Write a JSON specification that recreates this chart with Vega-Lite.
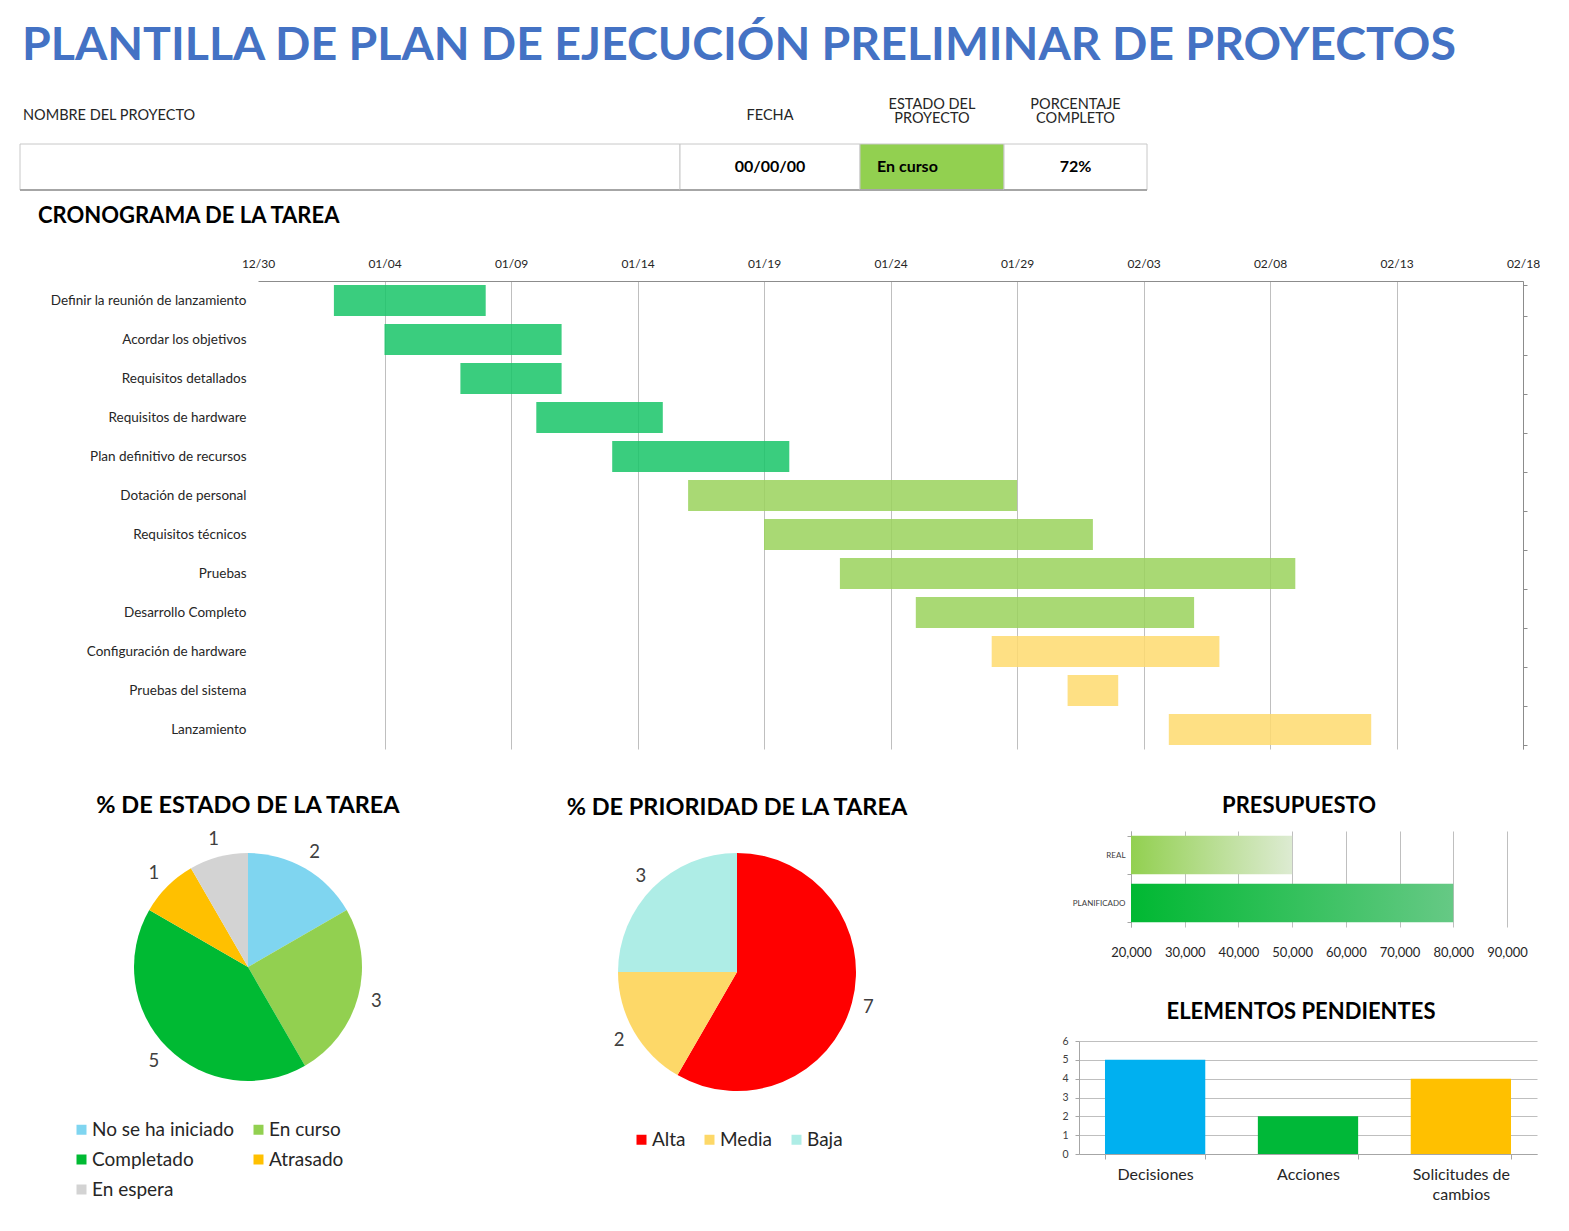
{
  "$schema": "https://vega.github.io/schema/vega-lite/v6.json",
  "background": "white",
  "padding": {"left": 19, "top": 22, "right": 0, "bottom": 10},
  "title": {"text": "PLANTILLA DE PLAN DE EJECUCIÓN PRELIMINAR DE PROYECTOS", "anchor": "start", "frame": "group", "dx": 2, "fontSize": 46.5, "fontWeight": "bold", "color": "#4472C4", "baseline": "top", "offset": 10, "font": "Lato"},
  "config": {
    "font": "Lato",
    "view": {"stroke": null},
    "axis": {"labelFont": "Lato", "labelColor": "#262626"},
    "legend": {"labelFont": "Lato"},
    "title": {"font": "Lato", "baseline": "top", "color": "#000000", "fontWeight": "bold"}
  },
  "spacing": 45,
  "resolve": {"scale": {"color": "independent", "theta": "independent"}, "legend": {"color": "independent"}},
  "vconcat": [
    {
      "spacing": 14,
      "resolve": {"scale": {"color": "independent"}, "legend": {"color": "independent"}},
      "vconcat": [
        {
          "spacing": 0,
          "vconcat": [
            {
              "spacing": 0,
              "bounds": "flush",
              "hconcat": [
                {"width": 660, "height": 64, "data": {"values": [{"encabezado": "NOMBRE DEL PROYECTO"}]},
                 "mark": {"type": "text", "align": "left", "x": 0, "dx": 3, "dy": 4.5, "baseline": "middle", "fontSize": 14.5, "color": "#262626", "lineBreak": "\n", "lineHeight": 14},
                 "encoding": {"text": {"field": "encabezado"}}},
                {"width": 180, "height": 64, "data": {"values": [{"encabezado": "FECHA"}]},
                 "mark": {"type": "text", "align": "center", "dy": 4.5, "baseline": "middle", "fontSize": 14.5, "color": "#262626", "lineBreak": "\n", "lineHeight": 14},
                 "encoding": {"text": {"field": "encabezado"}}},
                {"width": 144, "height": 64, "data": {"values": [{"encabezado": "ESTADO DEL\nPROYECTO"}]},
                 "mark": {"type": "text", "align": "center", "dy": -6.5, "baseline": "middle", "fontSize": 14.5, "color": "#262626", "lineBreak": "\n", "lineHeight": 14},
                 "encoding": {"text": {"field": "encabezado"}}},
                {"width": 143, "height": 64, "data": {"values": [{"encabezado": "PORCENTAJE\nCOMPLETO"}]},
                 "mark": {"type": "text", "align": "center", "dy": -6.5, "baseline": "middle", "fontSize": 14.5, "color": "#262626", "lineBreak": "\n", "lineHeight": 14},
                 "encoding": {"text": {"field": "encabezado"}}}
              ]
            },
            {
              "spacing": 0,
              "bounds": "flush",
              "hconcat": [
                {"width": 660, "height": 46, "data": {"values": [{"columna": "Nombre del proyecto", "valor": ""}]},
                 "encoding": {
                   "x": {"datum": 0, "type": "quantitative", "scale": {"domain": [0, 1], "nice": false}, "axis": null},
                   "x2": {"datum": 1},
                   "y": {"datum": 0, "type": "quantitative", "scale": {"domain": [0, 1], "nice": false}, "axis": null}
                 },
                 "layer": [
                   {"mark": {"type": "rect", "fill": "white", "stroke": "#C8C8C8", "strokeWidth": 1}, "encoding": {"y2": {"datum": 1}}},
                   {"mark": {"type": "rule", "color": "#A6A6A6", "strokeWidth": 2}, "encoding": {}}
                 ]},
                {"width": 180, "height": 46, "data": {"values": [{"columna": "Fecha", "valor": "00/00/00"}]},
                 "layer": [
                   {"mark": {"type": "rect", "fill": "white", "stroke": "#C8C8C8", "strokeWidth": 1},
                    "encoding": {
                      "x": {"datum": 0, "type": "quantitative", "scale": {"domain": [0, 1], "nice": false}, "axis": null},
                      "x2": {"datum": 1},
                      "y": {"datum": 0, "type": "quantitative", "scale": {"domain": [0, 1], "nice": false}, "axis": null},
                      "y2": {"datum": 1}}},
                   {"mark": {"type": "rule", "color": "#A6A6A6", "strokeWidth": 2},
                    "encoding": {"x": {"datum": 0, "type": "quantitative"}, "x2": {"datum": 1}, "y": {"datum": 0, "type": "quantitative"}}},
                   {"mark": {"type": "text", "align": "center", "baseline": "middle", "fontSize": 16, "fontWeight": "bold", "color": "#000000"},
                    "encoding": {"text": {"field": "valor"}}}
                 ]},
                {"width": 144, "height": 46, "data": {"values": [{"columna": "Estado del proyecto", "valor": "En curso"}]},
                 "layer": [
                   {"mark": {"type": "rect", "fill": "#92D050", "stroke": "#C8C8C8", "strokeWidth": 1},
                    "encoding": {
                      "x": {"datum": 0, "type": "quantitative", "scale": {"domain": [0, 1], "nice": false}, "axis": null},
                      "x2": {"datum": 1},
                      "y": {"datum": 0, "type": "quantitative", "scale": {"domain": [0, 1], "nice": false}, "axis": null},
                      "y2": {"datum": 1}}},
                   {"mark": {"type": "rule", "color": "#A6A6A6", "strokeWidth": 2},
                    "encoding": {"x": {"datum": 0, "type": "quantitative"}, "x2": {"datum": 1}, "y": {"datum": 0, "type": "quantitative"}}},
                   {"mark": {"type": "text", "align": "left", "x": 0, "dx": 17, "baseline": "middle", "fontSize": 16, "fontWeight": "bold", "color": "#000000"},
                    "encoding": {"text": {"field": "valor"}}}
                 ]},
                {"width": 143, "height": 46, "data": {"values": [{"columna": "Porcentaje completo", "valor": "72%"}]},
                 "layer": [
                   {"mark": {"type": "rect", "fill": "white", "stroke": "#C8C8C8", "strokeWidth": 1},
                    "encoding": {
                      "x": {"datum": 0, "type": "quantitative", "scale": {"domain": [0, 1], "nice": false}, "axis": null},
                      "x2": {"datum": 1},
                      "y": {"datum": 0, "type": "quantitative", "scale": {"domain": [0, 1], "nice": false}, "axis": null},
                      "y2": {"datum": 1}}},
                   {"mark": {"type": "rule", "color": "#A6A6A6", "strokeWidth": 2},
                    "encoding": {"x": {"datum": 0, "type": "quantitative"}, "x2": {"datum": 1}, "y": {"datum": 0, "type": "quantitative"}}},
                   {"mark": {"type": "text", "align": "center", "baseline": "middle", "fontSize": 16, "fontWeight": "bold", "color": "#000000"},
                    "encoding": {"text": {"field": "valor"}}}
                 ]}
              ]
            }
          ]
        },
        {
          "width": 1503,
          "height": 468,
          "title": {"text": "CRONOGRAMA DE LA TAREA", "anchor": "start", "frame": "group", "dx": 18, "fontSize": 22, "fontWeight": "bold", "color": "#000000", "offset": 29},
          "data": {"values": [
            {"tarea": "Definir la reunión de lanzamiento", "inicio": "2024-01-02", "fin": "2024-01-08", "fase": "Completado"},
            {"tarea": "Acordar los objetivos", "inicio": "2024-01-04", "fin": "2024-01-11", "fase": "Completado"},
            {"tarea": "Requisitos detallados", "inicio": "2024-01-07", "fin": "2024-01-11", "fase": "Completado"},
            {"tarea": "Requisitos de hardware", "inicio": "2024-01-10", "fin": "2024-01-15", "fase": "Completado"},
            {"tarea": "Plan definitivo de recursos", "inicio": "2024-01-13", "fin": "2024-01-20", "fase": "Completado"},
            {"tarea": "Dotación de personal", "inicio": "2024-01-16", "fin": "2024-01-29", "fase": "En curso"},
            {"tarea": "Requisitos técnicos", "inicio": "2024-01-19", "fin": "2024-02-01", "fase": "En curso"},
            {"tarea": "Pruebas", "inicio": "2024-01-22", "fin": "2024-02-09", "fase": "En curso"},
            {"tarea": "Desarrollo Completo", "inicio": "2024-01-25", "fin": "2024-02-05", "fase": "En curso"},
            {"tarea": "Configuración de hardware", "inicio": "2024-01-28", "fin": "2024-02-06", "fase": "Pendiente"},
            {"tarea": "Pruebas del sistema", "inicio": "2024-01-31", "fin": "2024-02-02", "fase": "Pendiente"},
            {"tarea": "Lanzamiento", "inicio": "2024-02-04", "fin": "2024-02-12", "fase": "Pendiente"}
          ]},
          "encoding": {
            "x": {"field": "inicio", "type": "temporal",
                  "scale": {"type": "utc", "domain": [{"year": 2023, "month": 12, "date": 30, "utc": true}, {"year": 2024, "month": 2, "date": 18, "utc": true}], "range": [238, 1503]},
                  "axis": {"orient": "top", "title": null, "format": "%m/%d", "labelFontSize": 12, "labelPadding": 11, "ticks": false, "labelFlush": false, "labelOverlap": false,
                           "domainColor": "#8C8C8C", "grid": true, "gridColor": "#BFBFBF",
                           "gridOpacity": {"condition": {"test": "datum.index === 0", "value": 0}, "value": 1},
                           "values": [
                             {"year": 2023, "month": 12, "date": 30, "utc": true},
                             {"year": 2024, "month": 1, "date": 4, "utc": true},
                             {"year": 2024, "month": 1, "date": 9, "utc": true},
                             {"year": 2024, "month": 1, "date": 14, "utc": true},
                             {"year": 2024, "month": 1, "date": 19, "utc": true},
                             {"year": 2024, "month": 1, "date": 24, "utc": true},
                             {"year": 2024, "month": 1, "date": 29, "utc": true},
                             {"year": 2024, "month": 2, "date": 3, "utc": true},
                             {"year": 2024, "month": 2, "date": 8, "utc": true},
                             {"year": 2024, "month": 2, "date": 13, "utc": true},
                             {"year": 2024, "month": 2, "date": 18, "utc": true}
                           ]}},
            "x2": {"field": "fin"}
          },
          "layer": [
            {"mark": {"type": "bar", "opacity": 0.85},
             "encoding": {
               "y": {"field": "tarea", "type": "nominal", "sort": null, "scale": {"paddingInner": 0.2, "paddingOuter": 0.1},
                     "axis": {"title": null, "orient": "left", "offset": -238, "domain": false, "ticks": false, "labelPadding": 12, "labelFontSize": 13.5, "labelLimit": 300, "labelColor": "#262626"}},
               "color": {"field": "fase", "type": "nominal", "scale": {"domain": ["Completado", "En curso", "Pendiente"], "range": ["#18C467", "#9AD25C", "#FEDA6E"]}, "legend": null}
             }},
            {"mark": {"type": "bar", "opacity": 0},
             "encoding": {
               "y": {"field": "tarea", "type": "nominal", "sort": null, "scale": {"paddingInner": 0.2, "paddingOuter": 0.1},
                     "axis": {"title": null, "orient": "right", "labels": false, "domain": true, "domainColor": "#8C8C8C", "ticks": true, "tickBand": "extent", "tickSize": 4, "tickColor": "#8C8C8C"}}
             }}
          ],
          "resolve": {"axis": {"y": "independent"}}
        }
      ]
    },
    {
      "spacing": 0,
      "resolve": {"scale": {"color": "independent", "theta": "independent"}, "legend": {"color": "independent"}},
      "hconcat": [
        {
          "width": 456,
          "height": 272,
          "title": {"text": "% DE ESTADO DE LA TAREA", "fontSize": 23.5, "fontWeight": "bold", "color": "#000000", "anchor": "middle", "frame": "group", "offset": 12},
          "data": {"values": [
            {"estado": "No se ha iniciado", "tareas": 2, "orden": 1},
            {"estado": "En curso", "tareas": 3, "orden": 2},
            {"estado": "Completado", "tareas": 5, "orden": 3},
            {"estado": "Atrasado", "tareas": 1, "orden": 4},
            {"estado": "En espera", "tareas": 1, "orden": 5}
          ]},
          "encoding": {
            "theta": {"field": "tareas", "type": "quantitative", "stack": true},
            "order": {"field": "orden", "type": "quantitative"}
          },
          "layer": [
            {"mark": {"type": "arc", "outerRadius": 114},
             "encoding": {"color": {"field": "estado", "type": "nominal",
               "scale": {"domain": ["No se ha iniciado", "En curso", "Completado", "Atrasado", "En espera"], "range": ["#7FD5F0", "#92D050", "#00BA33", "#FFC000", "#D3D3D3"]},
               "legend": {"title": null, "orient": "none", "direction": "horizontal", "legendX": 52, "legendY": 289, "columns": 2, "symbolType": "square", "symbolSize": 100, "symbolStrokeWidth": 0,
                          "labelFontSize": 19, "labelColor": "#262626", "rowPadding": 10, "columnPadding": 14, "labelOffset": 1, "labelLimit": 300}}}},
            {"mark": {"type": "text", "radius": 133, "fontSize": 18.5, "color": "#404040"},
             "encoding": {"text": {"field": "tareas", "type": "quantitative"}}}
          ]
        },
        {
          "spacing": 63,
          "resolve": {"scale": {"color": "independent", "theta": "independent"}, "legend": {"color": "independent"}},
          "hconcat": [
            {
              "width": 522,
              "height": 282,
              "title": {"text": "% DE PRIORIDAD DE LA TAREA", "fontSize": 23.5, "fontWeight": "bold", "color": "#000000", "anchor": "middle", "frame": "group", "offset": 12},
              "data": {"values": [
                {"prioridad": "Alta", "tareas": 7, "orden": 1},
                {"prioridad": "Media", "tareas": 2, "orden": 2},
                {"prioridad": "Baja", "tareas": 3, "orden": 3}
              ]},
              "encoding": {
                "theta": {"field": "tareas", "type": "quantitative", "stack": true},
                "order": {"field": "orden", "type": "quantitative"}
              },
              "layer": [
                {"mark": {"type": "arc", "outerRadius": 119},
                 "encoding": {"color": {"field": "prioridad", "type": "nominal",
                   "scale": {"domain": ["Alta", "Media", "Baja"], "range": ["#FF0000", "#FDD868", "#AEEDE6"]},
                   "legend": {"title": null, "orient": "none", "direction": "horizontal", "legendX": 156, "legendY": 299, "symbolType": "square", "symbolSize": 100, "symbolStrokeWidth": 0,
                              "labelFontSize": 19, "labelColor": "#262626", "columnPadding": 14, "labelOffset": 1, "labelLimit": 300}}}},
                {"mark": {"type": "text", "radius": 136, "fontSize": 18.5, "color": "#404040"},
                 "encoding": {"text": {"field": "tareas", "type": "quantitative"}}}
              ]
            },
            {
              "spacing": 42,
              "resolve": {"scale": {"color": "independent"}, "legend": {"color": "independent"}},
              "vconcat": [
                {
                  "width": 428,
                  "height": 96,
                  "title": {"text": "PRESUPUESTO", "fontSize": 22, "fontWeight": "bold", "color": "#000000", "anchor": "middle", "frame": "group", "dx": 6, "offset": 9},
                  "data": {"values": [
                    {"tipo": "REAL", "monto": 50000},
                    {"tipo": "PLANIFICADO", "monto": 80000}
                  ]},
                  "encoding": {
                    "y": {"field": "tipo", "type": "nominal", "sort": ["REAL", "PLANIFICADO"], "scale": {"paddingInner": 0.2, "paddingOuter": 0.1},
                          "axis": {"title": null, "offset": -52, "labelFontSize": 8, "labelPadding": 2, "domainColor": "#A6A6A6", "tickColor": "#A6A6A6", "tickSize": 4, "tickBand": "extent", "labelColor": "#404040"}},
                    "x": {"field": "monto", "type": "quantitative", "scale": {"domain": [20000, 90000], "nice": false, "zero": false, "range": [52, 428]},
                          "axis": {"title": null, "values": [20000, 30000, 40000, 50000, 60000, 70000, 80000, 90000], "format": ",.0f", "labelFontSize": 13, "labelPadding": 19,
                                   "ticks": false, "domain": false, "grid": true, "gridColor": "#BFBFBF", "labelFlush": false, "labelColor": "#262626"}},
                    "x2": {"datum": 20000}
                  },
                  "layer": [
                    {"transform": [{"filter": "datum.tipo === 'REAL'"}],
                     "mark": {"type": "bar", "color": {"gradient": "linear", "x1": 0, "y1": 0, "x2": 1, "y2": 0, "stops": [{"offset": 0, "color": "#92D050"}, {"offset": 1, "color": "#DDEBD2"}]}}},
                    {"transform": [{"filter": "datum.tipo === 'PLANIFICADO'"}],
                     "mark": {"type": "bar", "color": {"gradient": "linear", "x1": 0, "y1": 0, "x2": 1, "y2": 0, "stops": [{"offset": 0, "color": "#00B832"}, {"offset": 1, "color": "#66C985"}]}}}
                  ]
                },
                {
                  "width": 458,
                  "height": 113,
                  "title": {"text": "ELEMENTOS PENDIENTES", "fontSize": 22, "fontWeight": "bold", "color": "#000000", "anchor": "middle", "frame": "group", "dx": -7, "offset": 12},
                  "data": {"values": [
                    {"elemento": "Decisiones", "cantidad": 5},
                    {"elemento": "Acciones", "cantidad": 2},
                    {"elemento": "Solicitudes de cambios", "cantidad": 4}
                  ]},
                  "mark": {"type": "bar"},
                  "encoding": {
                    "x": {"field": "elemento", "type": "nominal", "sort": null, "scale": {"paddingInner": 0.344, "paddingOuter": 0.17},
                          "axis": {"title": null, "labelAngle": 0, "labelFontSize": 16, "labelPadding": 7, "tickBand": "extent", "tickSize": 5, "tickColor": "#A6A6A6", "domainColor": "#A6A6A6",
                                   "labelExpr": "datum.label === 'Solicitudes de cambios' ? ['Solicitudes de', 'cambios'] : datum.label", "labelLineHeight": 20, "labelColor": "#262626"}},
                    "y": {"field": "cantidad", "type": "quantitative", "scale": {"domain": [0, 6], "nice": false},
                          "axis": {"title": null, "values": [0, 1, 2, 3, 4, 5, 6], "labelFontSize": 10.5, "labelPadding": 7, "tickSize": 4, "grid": true, "gridColor": "#BFBFBF", "domainColor": "#A6A6A6", "tickColor": "#A6A6A6", "labelColor": "#404040"}},
                    "color": {"field": "elemento", "type": "nominal", "scale": {"domain": ["Decisiones", "Acciones", "Solicitudes de cambios"], "range": ["#00B0F0", "#00B838", "#FFC000"]}, "legend": null}
                  }
                }
              ]
            }
          ]
        }
      ]
    }
  ]
}
